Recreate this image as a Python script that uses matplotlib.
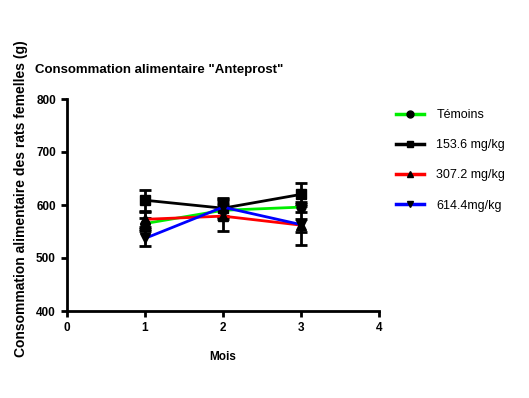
import matplotlib
matplotlib.use("Agg")
import matplotlib.pyplot as plt
from matplotlib.lines import Line2D

# ── data ──────────────────────────────────────
months = [1, 2, 3]
labels = ["Témoins", "153.6 mg/kg", "307.2 mg/kg", "614.4mg/kg"]
temoins = [565, 590, 596]
dose_153 = [609, 594, 620]
dose_307 = [573, 579, 562]
dose_614 = [537, 596, 563]
err_temoins = [10, 12, 10]
err_153 = [20, 20, 22]
err_307 = [14, 28, 12]
err_614 = [14, 16, 38]

series = [temoins, dose_153, dose_307, dose_614]
errors = [err_temoins, err_153, err_307, err_614]
colors = ["#00ee00", "black", "#ff0000", "#0000ff"]
markers = ["o", "s", "^", "v"]

plt.rcParams["font.family"] = ["Liberation Sans", "DejaVu Sans"]

fig = plt.figure(figsize=(5.29, 3.98), dpi=100)
ax = fig.add_axes([67 / 529, 87 / 398, 312 / 529, 212 / 398])

handles = []
for vals, err, col, mk, lab in zip(series, errors, colors, markers, labels):
    ax.errorbar(months, vals, yerr=err, color=col, lw=2, marker=mk,
                ms=6.5, mfc="black", mec="black", ecolor="black",
                elinewidth=2, capsize=4, capthick=2)
    handles.append(Line2D([], [], color=col, lw=2.5, marker=mk, ms=5,
                          mfc="black", mec="black", label=lab))

ax.set_xlim(0, 4)
ax.set_ylim(400, 800)
ax.set_xticks([0, 1, 2, 3, 4])
ax.set_yticks([400, 500, 600, 700, 800])
for s in ["top", "right"]:
    ax.spines[s].set_visible(False)
for s in ["left", "bottom"]:
    ax.spines[s].set_linewidth(2)
ax.tick_params(width=2, length=4, labelsize=8.5, pad=4)
for t in ax.get_xticklabels() + ax.get_yticklabels():
    t.set_fontweight("bold")

ax.set_xlabel("Mois", fontsize=8.5, fontweight="bold", labelpad=12)
ax.set_ylabel("Consommation alimentaire des rats femelles (g)", fontsize=10,
              fontweight="bold")
ax.yaxis.set_label_coords(-0.125, 0.53)
fig.text(35 / 529, 1 - 70 / 398, 'Consommation alimentaire "Anteprost"',
         fontsize=9.5, fontweight="bold", va="center", ha="left")

ax.legend(handles=handles, loc="upper left", bbox_to_anchor=(1.02, 1.005),
          frameon=False, fontsize=9, handlelength=2.2, labelspacing=1.45,
          handletextpad=1.0)

fig.savefig("out.png", dpi=100)
